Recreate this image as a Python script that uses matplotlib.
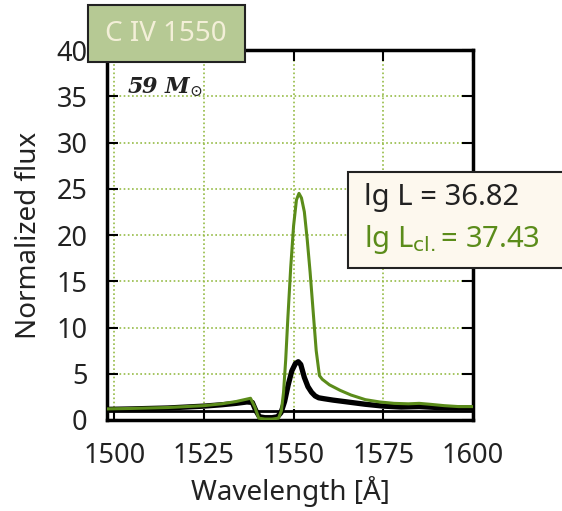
import numpy as np
import matplotlib
matplotlib.use("Agg")

import matplotlib.pyplot as plt
from matplotlib.patches import Rectangle

# wavelength [A] and normalized flux
wave_obs = [1498, 1505, 1510, 1515, 1520, 1525, 1530, 1534, 1537, 1538.5,
            1539.5, 1540.5, 1542, 1544, 1545.5, 1546.5, 1547.5, 1548.5, 1549.5,
            1550.5, 1551.3, 1552, 1553, 1554, 1555, 1556, 1557, 1558.5, 1561,
            1565, 1570, 1575, 1580, 1585, 1590, 1595, 1600]
flux_obs = [1.15, 1.2, 1.25, 1.3, 1.4, 1.5, 1.65, 1.8, 1.95, 1.9,
            1.0, 0.35, 0.25, 0.25, 0.35, 0.8, 2.0, 3.8, 5.3,
            6.1, 6.3, 6.0, 4.6, 3.6, 3.0, 2.6, 2.4, 2.3, 2.15,
            1.95, 1.7, 1.5, 1.4, 1.45, 1.35, 1.3, 1.3]

wave_cl = [1498, 1505, 1510, 1515, 1520, 1525, 1530, 1534, 1538, 1539.2,
           1540.3, 1542, 1544, 1545.8, 1546.6, 1547.2, 1547.8, 1548.4, 1549.2,
           1550.0, 1550.8, 1551.5, 1552.2, 1553.0, 1553.8, 1554.6, 1555.4,
           1556.3, 1557.2, 1558, 1560, 1563, 1566, 1570, 1574, 1578, 1582,
           1585, 1588, 1592, 1596, 1600]
flux_cl = [1.2, 1.25, 1.3, 1.35, 1.45, 1.55, 1.75, 2.0, 2.35, 1.4,
           0.2, 0.1, 0.1, 0.2, 1.0, 3.0, 6.5, 11.0, 16.5,
           21.0, 23.8, 24.5, 24.0, 22.5, 19.5, 16.0, 12.0,
           7.5, 4.8, 4.4, 3.8, 3.2, 2.7, 2.2, 1.95, 1.8, 1.75,
           1.8, 1.7, 1.55, 1.45, 1.45]

x_ticks = [1500, 1525, 1550, 1575, 1600]
y_ticks = [0, 5, 10, 15, 20, 25, 30, 35, 40]

GREEN = "#5b8c1a"
GRID = "#95bb45"

plt.rcParams["font.family"] = ["Noto Sans", "DejaVu Sans"]

fig = plt.figure(figsize=(5.62, 5.11), dpi=100)
ax = fig.add_axes([107 / 562, 1 - 420 / 511, 366 / 562, 370 / 511])

ax.axhline(1.0, color="black", lw=2, zorder=2)
ax.plot(wave_obs, flux_obs, color="black", lw=3.8, zorder=3,
        solid_capstyle="round", solid_joinstyle="round")
ax.plot(wave_cl, flux_cl, color=GREEN, lw=2.2, zorder=4,
        solid_joinstyle="round")

ax.set_xlim(1498, 1600)
ax.set_ylim(0, 40)
ax.set_xticks(x_ticks)
ax.set_yticks(y_ticks)
ax.grid(True, color=GRID, ls=(0, (1, 1.5)), lw=1.2)
ax.tick_params(direction="in", length=8, width=1.5, top=True, right=True,
               labelsize=19.5, colors="black", labelcolor="#222222")
ax.tick_params(axis="y", pad=14)
ax.tick_params(axis="x", pad=16)
for sp in ax.spines.values():
    sp.set_linewidth(2.5)

ax.set_xlabel("Wavelength [Å]", fontsize=20, labelpad=4, color="#222222")
ax.set_ylabel("Normalized flux", fontsize=20, labelpad=10, color="#222222")

ax.text(0.055, 0.9, r"$\mathbfit{59\ M}_{\odot}$", transform=ax.transAxes,
        fontsize=16, math_fontfamily="dejavuserif", color="#222222",
        ha="left", va="center")

# title box
fig.patches.append(Rectangle((88 / 562, 1 - 62 / 511), 157 / 562, 57 / 511,
                             transform=fig.transFigure, facecolor="#b6c994",
                             edgecolor="#222222", lw=1.5, zorder=10))
fig.text(166 / 562, 1 - 34 / 511, "C IV 1550", fontsize=20, color="#f3efd8",
         ha="center", va="center", zorder=11)

# luminosity box
fig.patches.append(Rectangle((348 / 562, 1 - 268 / 511), 0.5, 96 / 511,
                             transform=fig.transFigure, facecolor="#fdf8ee",
                             edgecolor="#222222", lw=1.5, zorder=10))
fig.text(364 / 562, 1 - 198 / 511, "lg L = 36.82", fontsize=21, color="#222222",
         ha="left", va="center", zorder=11)
fig.text(364 / 562, 1 - 240 / 511, r"lg L$_\mathrm{cl.}$= 37.43", fontsize=21,
         color=GREEN, ha="left", va="center", zorder=11)

fig.savefig("out.png", dpi=100)
